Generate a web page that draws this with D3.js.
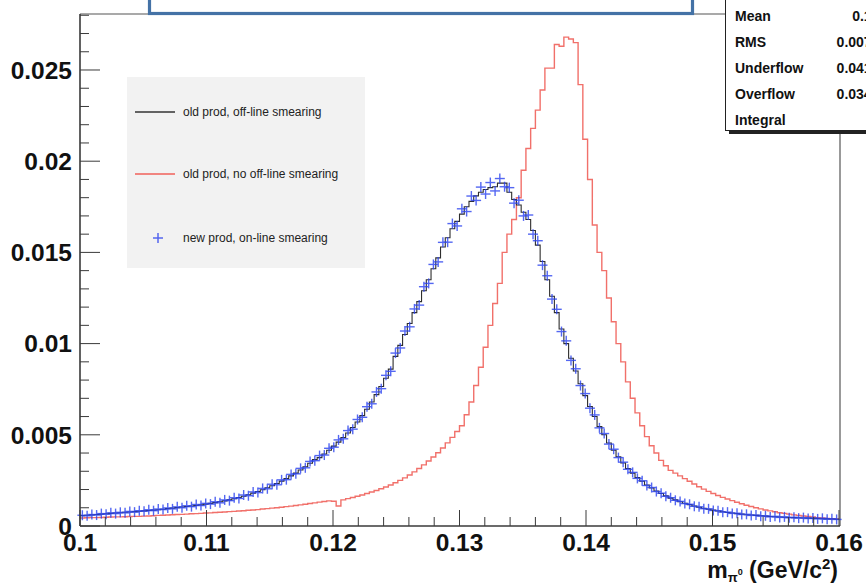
<!DOCTYPE html>
<html><head><meta charset="utf-8">
<script src="https://cdn.jsdelivr.net/npm/d3@7"></script>
<style>
html,body{margin:0;padding:0;background:#fff;}
svg{display:block;font-family:"Liberation Sans",Arial,Helvetica,sans-serif;}
</style></head>
<body>
<svg id="c" width="866" height="584"></svg>
<script>
// ---- data (values in units of 1e-4) ----
const UNIT = 1e-4;
const xRange = [0.1, 0.16];
const nBins = 160;
const xTickLabels = ["0.1","0.11","0.12","0.13","0.14","0.15","0.16"];
const yTickLabels = ["0","0.005","0.01","0.015","0.02","0.025"];
const seriesNames = ["old prod, off-line smearing","old prod, no off-line smearing","new prod, on-line smearing"];
const statsLabels = ["Mean","RMS","Underflow","Overflow","Integral"];
const statsValues = ["0.1317","0.007862","0.041637","0.034712",""];

const oldSmeared = [
5.7,5.9,6.1,6.3,6.5,6.7,6.9,7.1,7.3,7.5,
7.7,7.9,8.1,8.3,8.5,8.7,8.9,9.2,9.5,9.8,
10.1,10.4,10.7,11.0,11.3,11.6,12.0,12.4,12.8,13.3,
13.8,14.3,14.9,15.6,16.3,17.1,18.0,18.9,19.9,21.0,
22.1,23.3,24.6,26.0,27.5,29.0,30.7,32.5,34.4,36.4,
37.5,39.5,41.5,43.8,46.0,48.5,51.0,54.0,57.0,60.5,
64.0,68.0,72.0,76.5,81.0,86.0,93.0,99.0,105.0,111.0,
117.0,123.0,129.0,135.0,141.0,147.0,153.0,158.0,163.0,167.0,
171.0,175.0,178.0,181.0,183.0,184.5,185.5,186.0,188.0,188.0,
183.0,179.0,176.0,172.0,168.0,162.0,154.0,145.0,135.0,126.0,
117.0,108.0,100.0,92.0,85.0,78.0,71.5,65.5,60.0,54.5,
50.0,45.5,41.5,38.0,34.5,31.5,29.0,26.5,24.5,22.5,
20.8,19.2,17.8,16.5,15.3,14.3,13.3,12.5,11.7,11.0,
10.3,9.7,9.2,8.7,8.2,7.8,7.4,7.1,6.8,6.5,
6.2,6.0,5.8,5.6,5.4,5.2,5.1,4.9,4.8,4.7,
4.6,4.5,4.4,4.3,4.2,4.1,4.0,3.9,3.8,3.7];

const oldNoSmear = [
4.4,4.5,4.6,4.6,4.7,4.8,4.9,5.0,5.0,5.1,
5.2,5.3,5.3,5.4,5.5,5.6,5.8,5.9,6.0,6.2,
6.3,6.4,6.5,6.7,6.8,6.9,7.1,7.2,7.4,7.5,
7.7,7.9,8.0,8.2,8.4,8.6,8.8,9.0,9.3,9.5,
9.8,10.0,10.3,10.6,10.9,11.2,11.6,11.9,12.3,12.7,
13.1,13.4,13.8,13.6,11.0,14.3,15.0,15.6,16.3,17.0,
17.8,18.6,19.5,20.4,21.4,22.5,23.7,25.0,26.4,28.0,
29.7,31.5,33.5,35.6,37.8,40.2,42.8,45.6,48.6,51.8,
55,61,68,77,87,98,110,122,133,150,
160,168,180,195,207,218,228,239,251,251,
264,263,268,267,265,242,212,190,165,150,
140,125,112,100,90,79,70,62,55,49,
44,40,36,33,30.5,29,27.5,26,24.5,23,
21.5,20.2,19,17.8,16.7,15.7,14.8,13.9,13.0,12.2,
11.4,10.7,10.0,9.4,8.8,8.3,7.8,7.3,6.9,6.5,
6.1,5.8,5.5,5.2,4.9,4.6,4.4,4.2,4.0,3.8];

const newOnline = [
5.9,5.6,6.3,6.0,6.8,6.4,7.2,6.8,7.5,7.2,
8.0,7.6,8.4,8.1,8.9,8.4,9.3,9.0,9.9,9.4,
10.5,10.0,11.1,10.6,11.8,11.2,12.4,12.0,13.3,12.7,
14.3,13.9,15.5,15.1,17.0,16.6,18.7,18.3,20.6,20.4,
22.9,22.6,25.3,25.4,28.3,28.6,31.6,31.9,35.4,35.8,
38.6,38.9,42.6,43.2,47.2,47.8,52.3,53.1,58.4,59.6,
65.4,67.0,73.5,75.3,82.6,84.8,94.8,97.6,106.9,109.2,
119.0,121.1,131.2,133.0,143.4,144.8,155.5,155.6,165.8,164.5,
173.9,172.4,180.9,178.5,185.8,182.0,188.3,183.7,190.5,186.0,
185.5,177.0,178.6,170.0,170.5,160.0,156.4,143.0,137.2,124.4,
118.8,106.6,101.5,90.8,86.2,77.0,72.6,64.6,60.9,53.8,
50.7,44.9,42.1,37.5,35.0,31.1,29.4,26.1,24.8,22.2,
21.1,18.9,18.0,16.3,15.5,14.1,13.5,12.3,11.9,10.8,
10.5,9.5,9.4,8.5,8.4,7.6,7.6,6.9,7.0,6.3,
6.4,5.8,6.0,5.4,5.6,5.0,5.3,4.7,5.0,4.5,
4.8,4.3,4.6,4.1,4.4,3.9,4.2,3.7,4.0,3.6];

// ---- layout ----
const svg = d3.select("#c");
const L = 80, R = 839, T = 14, B = 526;
const x = d3.scaleLinear().domain(xRange).range([L, R]);
const y = d3.scaleLinear().domain([0, 0.02807]).range([B, T]);
const bw = (xRange[1]-xRange[0]) / nBins;
const edge = i => xRange[0] + i*bw;

const axisCol = "#3a3a3a";
// frame
svg.append("line").attr("x1",L).attr("x2",726).attr("y1",T).attr("y2",T).attr("stroke","#555").attr("stroke-width",1.2);
svg.append("line").attr("x1",R+1).attr("x2",R+1).attr("y1",T).attr("y2",B).attr("stroke","#555").attr("stroke-width",1.2);

// histograms
function stepPts(arr){
  const pts=[];
  arr.forEach((v,i)=>{ pts.push([edge(i), v*UNIT]); pts.push([edge(i+1), v*UNIT]); });
  return pts;
}
const line = d3.line().x(d=>x(d[0])).y(d=>y(d[1]));
svg.append("path").attr("d", line(stepPts(oldNoSmear))).attr("fill","none")
  .attr("stroke","#f0605a").attr("stroke-width",1.4).attr("opacity",0.9);
svg.append("path").attr("d", line(stepPts(oldSmeared))).attr("fill","none")
  .attr("stroke","#2e2e2e").attr("stroke-width",1.1);

// blue crosses
const g = svg.append("g").attr("stroke","#2a42f0").attr("stroke-width",1.4).attr("opacity",0.8);
newOnline.forEach((v,i)=>{
  const cx = x(edge(i)+bw/2), cy = y(v*UNIT);
  const x0 = x(edge(i)), x1 = x(edge(i+1));
  g.append("line").attr("x1",Math.min(x0,cx-5)).attr("x2",Math.max(x1,cx+5)).attr("y1",cy).attr("y2",cy);
  g.append("line").attr("x1",cx).attr("x2",cx).attr("y1",cy-5).attr("y2",cy+5);
});

// axes
const xAxisG = svg.append("g");
const xMinor = d3.range(0, 31).map(k => xRange[0] + k*0.002);
xMinor.forEach((v,k)=>{
  const major = k%5===0;
  xAxisG.append("line").attr("x1",x(v)).attr("x2",x(v)).attr("y1",B).attr("y2",B-(major?16:9))
    .attr("stroke",axisCol).attr("stroke-width",1);
});
xAxisG.append("line").attr("x1",L).attr("x2",R+1).attr("y1",B).attr("y2",B).attr("stroke",axisCol).attr("stroke-width",1.6);
xTickLabels.forEach(t=>{
  xAxisG.append("text").attr("x",x(+t)).attr("y",551).attr("text-anchor","middle")
    .attr("font-size",24.5).attr("font-weight","bold").attr("fill","#111").text(t);
});

const yAxisG = svg.append("g");
d3.range(0, 29).forEach(k=>{
  const v = k*0.001;
  const major = k%5===0;
  yAxisG.append("line").attr("x1",L).attr("x2",L+(major?20:9)).attr("y1",y(v)).attr("y2",y(v))
    .attr("stroke",axisCol).attr("stroke-width",1);
});
yAxisG.append("line").attr("x1",L).attr("x2",L).attr("y1",T).attr("y2",B).attr("stroke",axisCol).attr("stroke-width",1.6);
yTickLabels.forEach(t=>{
  yAxisG.append("text").attr("x",72).attr("y",y(+t)+8.8).attr("text-anchor","end")
    .attr("font-size",24.5).attr("font-weight","bold").attr("fill","#111").text(t);
});

// x-axis title
const xt = svg.append("text").attr("x",838).attr("y",578).attr("text-anchor","end")
  .attr("font-size",23).attr("font-weight","bold").attr("fill","#111");
xt.append("tspan").text("m");
xt.append("tspan").attr("font-size",13).attr("dy",4).text("\u03c0");
xt.append("tspan").attr("font-size",9).attr("dy",-7).text("0");
xt.append("tspan").attr("dy",3).text(" (GeV/c");
xt.append("tspan").attr("font-size",15).attr("dy",-9).text("2");
xt.append("tspan").attr("dy",9).text(")");

// legend
svg.append("rect").attr("x",127).attr("y",77).attr("width",238).attr("height",191).attr("fill","#f2f2f2");
const legY = [112, 174, 238];
const legCols = ["#333", "#f0605a"];
[0,1].forEach(i=>{
  svg.append("line").attr("x1",135).attr("x2",175).attr("y1",legY[i]).attr("y2",legY[i])
    .attr("stroke",legCols[i]).attr("stroke-width",1.3);
});
svg.append("line").attr("x1",153).attr("x2",163).attr("y1",legY[2]).attr("y2",legY[2]).attr("stroke","#5566ee").attr("stroke-width",1.5);
svg.append("line").attr("x1",158).attr("x2",158).attr("y1",legY[2]-5).attr("y2",legY[2]+5).attr("stroke","#5566ee").attr("stroke-width",1.5);
seriesNames.forEach((s,i)=>{
  svg.append("text").attr("x",183).attr("y",legY[i]+4).attr("font-size",12).attr("fill","#222").text(s);
});

// title box (mostly off-canvas)
svg.append("rect").attr("x",149.5).attr("y",-30).attr("width",543).attr("height",43.5)
  .attr("fill","#fff").attr("stroke","#4472a6").attr("stroke-width",3.2);

// stats box
svg.append("rect").attr("x",729).attr("y",-10).attr("width",160).attr("height",144).attr("fill","#222");
svg.append("rect").attr("x",725.5).attr("y",-10).attr("width",160).attr("height",140.5)
  .attr("fill","#fff").attr("stroke","#222").attr("stroke-width",1);
statsLabels.forEach((s,i)=>{
  svg.append("text").attr("x",735).attr("y",21+i*26).attr("font-size",14).attr("font-weight","bold").attr("fill","#111").text(s);
  svg.append("text").attr("x",895).attr("y",21+i*26).attr("text-anchor","end").attr("font-size",14).attr("font-weight","bold").attr("fill","#111").text(statsValues[i]);
});
</script>
</body></html>
